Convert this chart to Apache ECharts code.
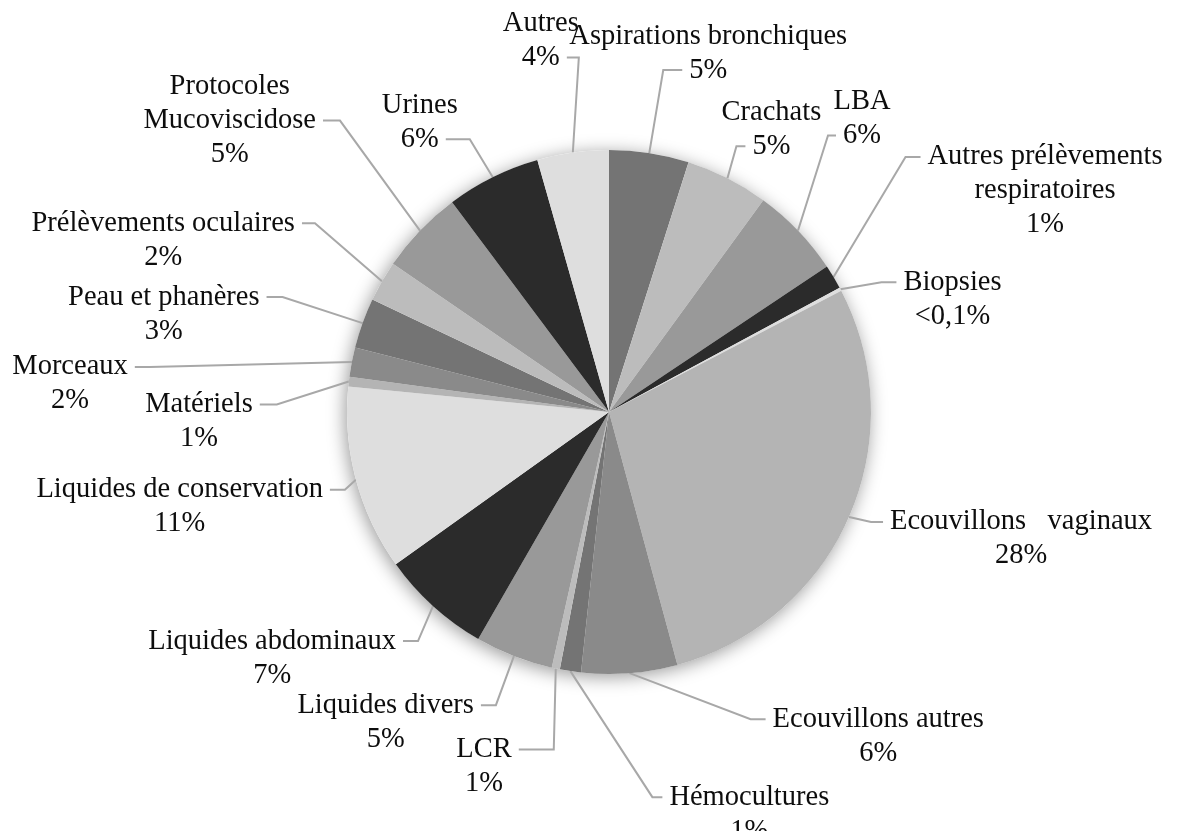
<!DOCTYPE html>
<html>
<head>
<meta charset="utf-8">
<script src="https://cdn.jsdelivr.net/npm/echarts@6/dist/echarts.min.js"></script>
<style>
html,body{margin:0;padding:0;background:#fff;}
#chart{width:1178px;height:831px;}
</style>
</head>
<body>
<div id="chart"></div>
<script>
// ---- data ----
const categories = [
  'Aspirations bronchiques', 'Crachats', 'LBA', 'Autres prélèvements\nrespiratoires',
  'Biopsies', 'Ecouvillons   vaginaux', 'Ecouvillons autres', 'Hémocultures', 'LCR',
  'Liquides divers', 'Liquides abdominaux', 'Liquides de conservation', 'Matériels',
  'Morceaux', 'Peau et phanères', 'Prélèvements oculaires', 'Protocoles\nMucoviscidose',
  'Urines', 'Autres'
];
const values = [4.9, 5.1, 5.6, 1.5, 0.2, 28.4, 5.9, 1.3, 0.5, 4.8, 6.8, 11.4, 0.6, 1.8, 3.1, 2.5, 5.2, 5.8, 4.4];
const pctLabels = ['5%', '5%', '6%', '1%', '<0,1%', '28%', '6%', '1%', '1%', '5%', '7%', '11%', '1%', '2%', '3%', '2%', '5%', '6%', '4%'];

// ---- styling ----
const greys = ['#747474', '#bcbcbc', '#999999', '#2b2b2b', '#dedede', '#b4b4b4', '#8a8a8a'];
const FONT_SIZE = 28.5, LINE_H = 34, GAP = 7;
const FONT_FAMILY = '"Liberation Serif", "Times New Roman", serif';
// leader line layout per label: [elbow dx, elbow dy from slice edge, horizontal length, line of text the leader meets]
const leaderSpec = [
  [14, -83, 19, 1], [9, -32, 9, 1], [30, -95, 8, 1], [72, -120, 15, 0],
  [41, -7, 15, 0], [22, 5, 12, 0], [121, 46, 15, 0], [82, 126, 10, 0],
  [-2, 81, -35, 0], [-18, 49, -15, 0], [-15, 35, -15, 0], [-11, 10, -15, 0],
  [-72, 23, -17, 0], [-202, 5, -15, 0], [-80, -26, -16, 0], [-67, -58, -13, 0],
  [-80, -110, -17, 1], [-23, -38, -24, 1], [6, -95, -12, 1]
];

const ctx = document.createElement('canvas').getContext('2d');
ctx.font = FONT_SIZE + 'px ' + FONT_FAMILY;
function textW(s) { return ctx.measureText(s).width; }
function labelText(i) { return categories[i] + '\n' + pctLabels[i]; }

const chart = echarts.init(document.getElementById('chart'), null, { renderer: 'canvas' });
chart.setOption({
  backgroundColor: '#ffffff',
  animation: false,
  series: [
    {
      type: 'pie',
      silent: true,
      center: [609, 412],
      radius: [0, 262],
      label: { show: false },
      labelLine: { show: false },
      itemStyle: { color: '#ffffff', shadowBlur: 18, shadowColor: 'rgba(0,0,0,0.4)', shadowOffsetX: -2, shadowOffsetY: 3 },
      data: [{ value: 1, name: 'bg' }],
      z: 1
    },
    {
      type: 'pie',
      center: [609, 412],
      radius: [0, 262],
      startAngle: 90,
      clockwise: true,
      avoidLabelOverlap: false,
      z: 2,
      itemStyle: { borderWidth: 0 },
      label: {
        show: true,
        position: 'outside',
        formatter: function (p) { return labelText(p.dataIndex); },
        fontFamily: FONT_FAMILY,
        fontSize: FONT_SIZE,
        lineHeight: LINE_H,
        color: '#0d0d0d'
      },
      labelLine: {
        show: true,
        length: 10,
        length2: 10,
        smooth: false,
        lineStyle: { color: '#a8a8a8', width: 2 }
      },
      labelLayout: function (p) {
        const i = p.dataIndex;
        const s = leaderSpec[i];
        const pts = p.labelLinePoints;
        if (!pts) return {};
        const e = pts[0];
        const elbow = [e[0] + s[0], e[1] + s[1]];
        const end = [elbow[0] + s[2], elbow[1]];
        const lines = labelText(i).split('\n');
        const w = textW(lines[s[3]]);
        const dir = s[2] >= 0 ? 1 : -1;
        const cx = end[0] + dir * (GAP + w / 2);
        const cy = end[1] + ((lines.length - 1) / 2 - s[3]) * LINE_H;
        return {
          x: cx, y: cy, align: 'center', verticalAlign: 'middle',
          labelLinePoints: [[e[0], e[1]], elbow, end]
        };
      },
      data: categories.map(function (c, i) {
        return { name: c, value: values[i], itemStyle: { color: greys[i % greys.length] } };
      })
    }
  ]
});
</script>
</body>
</html>
